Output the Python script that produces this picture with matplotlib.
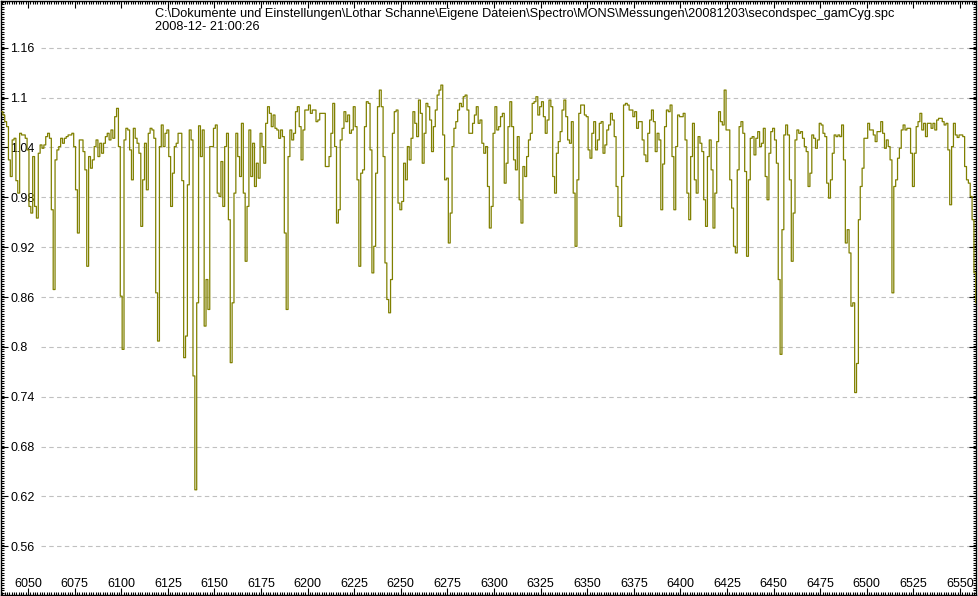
import numpy as np
import matplotlib
matplotlib.use("Agg")
import matplotlib.pyplot as plt
from matplotlib.ticker import MultipleLocator, FuncFormatter

plt.rcParams['font.family'] = ['Liberation Sans', 'DejaVu Sans']

# spectrum sampled at 1 A, starting at 6036 A
wl_start = 6036
wl_step = 1.0
flux = [
    1.083, 1.079, 1.071, 1.065, 1.025, 1.005, 1.049, 1.051, 1.000, 0.985,
    1.057, 1.055, 1.055, 1.051, 1.037, 0.969, 0.961, 1.029, 0.969, 0.955,
    1.033, 1.043, 1.039, 1.043, 1.053, 1.057, 1.051, 0.965, 0.869, 1.025,
    1.037, 1.041, 1.051, 1.045, 1.051, 1.053, 1.055, 1.055, 1.057, 1.041,
    0.989, 0.937, 1.049, 1.049, 1.035, 1.013, 0.897, 1.029, 1.015, 1.025,
    1.041, 1.049, 1.029, 1.045, 1.033, 1.045, 1.053, 1.057, 1.049, 1.061,
    1.051, 1.077, 1.087, 1.041, 0.861, 0.797, 1.049, 1.063, 1.061, 1.037,
    1.001, 1.063, 1.051, 1.045, 1.033, 0.945, 1.001, 1.045, 0.989, 1.057,
    1.063, 1.061, 1.051, 0.865, 0.807, 1.041, 1.067, 1.041, 1.057, 1.061,
    1.029, 0.969, 1.009, 1.041, 1.045, 1.057, 1.057, 1.000, 0.787, 0.813,
    0.995, 1.061, 1.049, 0.765, 0.628, 0.853, 1.066, 1.029, 1.061, 0.825,
    0.881, 0.845, 1.041, 1.041, 1.063, 1.067, 0.985, 0.981, 1.023, 0.969,
    1.041, 1.057, 0.953, 0.781, 0.853, 0.985, 1.057, 1.029, 1.005, 1.069,
    0.985, 0.903, 0.969, 1.061, 1.005, 1.045, 0.993, 1.021, 1.003, 1.057,
    1.041, 1.021, 1.069, 1.089, 1.081, 1.065, 1.079, 1.063, 1.061, 1.051,
    1.061, 1.053, 0.937, 0.845, 1.029, 1.061, 1.049, 1.057, 1.083, 1.089,
    1.065, 1.025, 1.061, 1.085, 1.085, 1.091, 1.081, 1.085, 1.085, 1.071,
    1.073, 1.081, 1.081, 1.081, 1.017, 1.017, 1.029, 1.057, 1.093, 1.041,
    0.949, 0.965, 1.049, 1.063, 1.083, 1.071, 1.079, 1.057, 1.061, 1.089,
    1.065, 1.001, 0.897, 1.009, 1.013, 1.065, 1.095, 1.093, 1.037, 0.889,
    0.921, 1.009, 1.089, 1.109, 1.089, 1.029, 0.901, 0.857, 0.841, 0.881,
    1.057, 1.083, 1.085, 0.973, 0.965, 0.975, 1.021, 1.001, 1.041, 1.025,
    1.051, 1.083, 1.069, 1.053, 1.097, 1.081, 1.021, 1.057, 1.093, 1.089,
    1.073, 1.035, 1.065, 1.085, 1.103, 1.109, 1.115, 1.055, 1.001, 1.003,
    0.925, 0.961, 1.041, 1.063, 1.071, 1.085, 1.093, 1.089, 1.101, 1.103,
    1.085, 1.057, 1.057, 1.069, 1.079, 1.089, 1.069, 1.073, 1.045, 1.033,
    1.041, 0.993, 0.943, 0.969, 1.057, 1.089, 1.061, 1.065, 1.077, 1.081,
    0.997, 1.021, 1.065, 1.095, 1.065, 1.025, 1.013, 1.053, 0.977, 0.949,
    1.017, 1.005, 1.029, 1.049, 1.057, 1.093, 1.095, 1.101, 1.079, 1.089,
    1.095, 1.077, 1.057, 1.073, 1.097, 1.089, 1.005, 0.985, 1.033, 1.047,
    1.059, 1.085, 1.097, 1.077, 1.049, 1.045, 1.071, 0.985, 0.921, 1.001,
    1.081, 1.091, 1.091, 1.079, 1.077, 1.037, 1.027, 1.057, 1.071, 1.037,
    1.049, 1.069, 1.071, 1.033, 1.043, 1.061, 1.067, 1.081, 1.073, 1.053,
    0.993, 0.957, 0.945, 1.005, 1.091, 1.093, 1.091, 1.085, 1.085, 1.077,
    1.083, 1.063, 1.071, 1.071, 1.049, 1.031, 1.023, 1.057, 1.073, 1.085,
    1.071, 1.035, 1.057, 1.049, 0.965, 1.020, 1.065, 1.085, 1.083, 1.091,
    1.029, 0.965, 1.041, 1.079, 1.077, 1.077, 1.081, 1.049, 0.985, 0.953,
    1.029, 1.069, 1.001, 0.985, 1.053, 1.045, 1.035, 0.977, 0.945, 1.029,
    1.049, 1.013, 0.943, 0.985, 1.047, 1.083, 1.071, 1.067, 1.109, 1.061,
    1.061, 1.001, 0.967, 0.921, 0.913, 1.013, 1.065, 1.071, 1.057, 1.011,
    0.909, 1.001, 1.051, 1.053, 1.031, 1.051, 1.059, 1.041, 1.045, 1.063,
    1.005, 0.977, 1.033, 1.059, 1.063, 1.049, 1.021, 0.881, 0.791, 0.941,
    1.055, 1.067, 1.055, 1.001, 0.903, 0.961, 1.049, 1.061, 1.057, 1.059,
    1.051, 1.041, 1.035, 0.993, 1.009, 1.055, 1.051, 1.039, 1.049, 1.069,
    1.067, 1.057, 1.053, 0.997, 0.979, 1.001, 1.033, 1.055, 1.053, 1.055,
    1.053, 1.067, 1.025, 0.925, 0.941, 0.913, 0.849, 0.853, 0.745, 0.780,
    0.953, 0.993, 1.015, 1.051, 1.051, 1.069, 1.061, 1.061, 1.055, 1.047,
    1.059, 1.059, 1.071, 1.057, 1.039, 1.049, 1.041, 1.025, 0.865, 0.993,
    1.001, 1.027, 1.039, 1.061, 1.067, 1.061, 1.063, 1.063, 1.033, 0.993,
    1.033, 1.065, 1.071, 1.081, 1.061, 1.069, 1.053, 1.069, 1.069, 1.063,
    1.069, 1.061, 1.073, 1.075, 1.075, 1.071, 1.067, 1.069, 1.037, 0.971,
    1.041, 1.069, 1.055, 1.052, 1.055, 1.055, 1.053, 1.017, 1.001, 0.997,
    0.981, 0.953, 0.889, 0.853,
]
wavelength = wl_start + wl_step * np.arange(len(flux))

x_ticks = [6050, 6075, 6100, 6125, 6150, 6175, 6200, 6225, 6250, 6275, 6300,
           6325, 6350, 6375, 6400, 6425, 6450, 6475, 6500, 6525, 6550]
y_ticks = [0.56, 0.62, 0.68, 0.74, 0.80, 0.86, 0.92, 0.98, 1.04, 1.10, 1.16]

title1 = r"C:\Dokumente und Einstellungen\Lothar Schanne\Eigene Dateien\Spectro\MONS\Messungen\20081203\secondspec_gamCyg.spc"
title2 = "2008-12- 21:00:26"

W, H = 979, 596
fig = plt.figure(figsize=(W / 100, H / 100), dpi=100)
ax = fig.add_axes([1 / W, 1 / H, 975 / W, 594.5 / H])

ax.plot(wavelength, flux, color='#808000', lw=0.9, drawstyle='steps-mid', zorder=3)

# dashed horizontal grid, starting right of the tick labels
ax.hlines(y_ticks, 40 / 975, 1, transform=ax.get_yaxis_transform(),
          colors='#c0c0c0', linestyles=(0, (4, 3)), linewidth=0.8, zorder=1)

ax.set_xlim(6035.5, 6558.6)
ax.set_ylim(0.5014, 1.2168)
ax.set_xticks(x_ticks)
ax.set_yticks(y_ticks)
ax.xaxis.set_minor_locator(MultipleLocator(1.25))
ax.yaxis.set_minor_locator(MultipleLocator(0.003))
ax.yaxis.set_major_formatter(FuncFormatter(lambda v, p: f'{v:g}'))

ax.tick_params(which='both', direction='in', top=True, right=True,
               colors='black', labelsize=9, width=0.8)
ax.tick_params(which='major', length=5)
ax.tick_params(which='minor', length=2.5)
ax.tick_params(axis='x', pad=-12.5)
ax.tick_params(axis='y', pad=-6.5)
for t in ax.get_yticklabels():
    t.set_horizontalalignment('left')

for s in ax.spines.values():
    s.set_color('black')
    s.set_linewidth(1.0)

fig.text(155 / W, 1 - 13.5 / H, title1, ha='left', va='center', fontsize=9.15)
fig.text(155 / W, 1 - 26.5 / H, title2, ha='left', va='center', fontsize=9.15)

fig.savefig('out.png', dpi=100)
